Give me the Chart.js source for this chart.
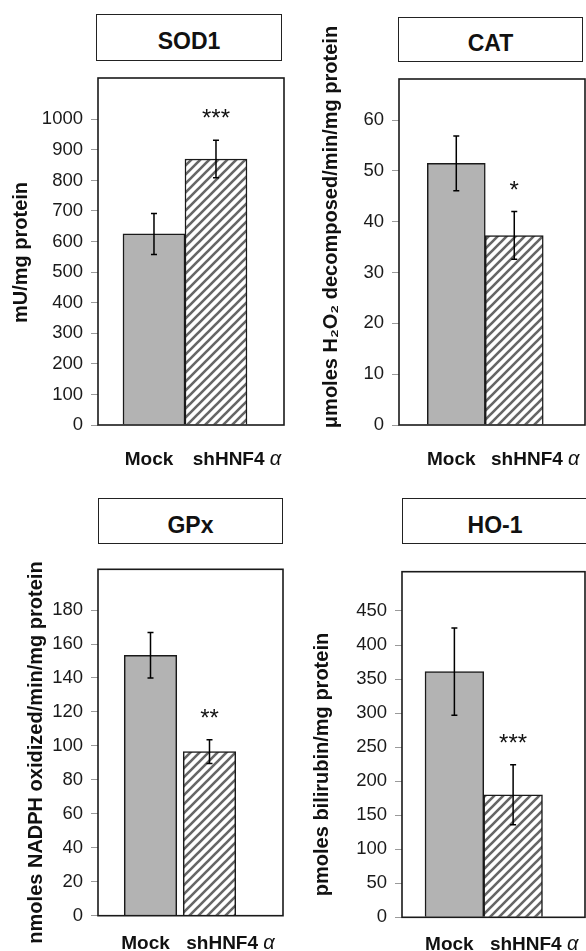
<!DOCTYPE html>
<html>
<head>
<meta charset="utf-8">
<script src="https://cdn.jsdelivr.net/npm/chart.js@4.4.1/dist/chart.umd.min.js"></script>
<style>
  html, body { margin: 0; padding: 0; background: #fff; }
  body { position: relative; width: 586px; height: 951px; overflow: hidden; font-family: 'Liberation Sans', Arial, sans-serif; }
  canvas { position: absolute; }
  .titulo { position: absolute; box-sizing: border-box; border: 1.5px solid #222; background: #fff;
            display: flex; align-items: center; justify-content: center; padding-top: 8px;
            font-weight: bold; font-size: 23px; color: #111; }
</style>
</head>
<body>
<div class="titulo" style="left:96px;top:14px;width:186px;height:47px">SOD1</div>
<div class="titulo" style="left:398px;top:17px;width:185px;height:45px">CAT</div>
<div class="titulo" style="left:98px;top:498px;width:185px;height:46px">GPx</div>
<div class="titulo" style="left:402px;top:498px;width:186px;height:46px">HO-1</div>
<canvas id="sod" width="293" height="475" style="left:0;top:0"></canvas>
<canvas id="cat" width="293" height="475" style="left:293px;top:0"></canvas>
<canvas id="gpx" width="293" height="476" style="left:0;top:475px"></canvas>
<canvas id="ho1" width="293" height="476" style="left:293px;top:475px"></canvas>
<script>
const FONT = "'Liberation Sans', 'DejaVu Sans', Arial, sans-serif";

// grupos (eje x)
const groups = ['Mock', 'shHNF4α'];

// SOD1
const sodValues = [625, 870];
const sodErrors = [67, 61];
const sodSig = ['', '***'];
const sodTicks = [0, 100, 200, 300, 400, 500, 600, 700, 800, 900, 1000];

// CAT
const catValues = [51.5, 37.3];
const catErrors = [5.4, 4.7];
const catSig = ['', '*'];
const catTicks = [0, 10, 20, 30, 40, 50, 60];

// GPx
const gpxValues = [153.4, 96.6];
const gpxErrors = [13.4, 7];
const gpxSig = ['', '**'];
const gpxTicks = [0, 20, 40, 60, 80, 100, 120, 140, 160, 180];

// HO-1
const hoValues = [361, 180];
const hoErrors = [64, 44];
const hoSig = ['', '***'];
const hoTicks = [0, 50, 100, 150, 200, 250, 300, 350, 400, 450];

// layout de cada panel (px del area del grafico)
const panels = [
  { id: 'sod', yTitle: 'mU/mg protein', values: sodValues, errors: sodErrors, sig: sodSig, ticks: sodTicks,
    yMax: 1135, xMin: -0.903, xMax: 2.097, plot: { l: 98, t: 78, r: 9, b: 50 }, titleX: 21, titleShift: 1, labelDrop: 40 },
  { id: 'cat', yTitle: 'μmoles H₂O₂ decomposed/min/mg protein', values: catValues, errors: catErrors, sig: catSig, ticks: catTicks,
    yMax: 68.1, xMin: -0.988, xMax: 2.220, plot: { l: 106, t: 79, r: 1, b: 50 }, titleX: 38, titleShift: -25, labelDrop: 40 },
  { id: 'gpx', yTitle: 'nmoles NADPH oxidized/min/mg protein', values: gpxValues, errors: gpxErrors, sig: gpxSig, ticks: gpxTicks,
    yMax: 204, xMin: -0.89, xMax: 2.246, plot: { l: 98, t: 94.3, r: 10, b: 35.3 }, titleX: 36, titleShift: 10, labelDrop: 33 },
  { id: 'ho1', yTitle: 'pmoles bilirubin/mg protein', values: hoValues, errors: hoErrors, sig: hoSig, ticks: hoTicks,
    yMax: 507.7, xMin: -0.892, xMax: 2.224, plot: { l: 109, t: 96.7, r: 1, b: 33.7 }, titleX: 29, titleShift: 20, labelDrop: 33 }
];

// desplazamiento de las etiquetas respecto al centro de la barra
const labelShift = [-5, 21];

function hatch() {
  const s = 9;
  const c = document.createElement('canvas');
  c.width = s; c.height = s;
  const g = c.getContext('2d');
  g.fillStyle = '#fff';
  g.fillRect(0, 0, s, s);
  g.strokeStyle = '#666';
  g.lineWidth = 2.6;
  g.beginPath();
  g.moveTo(0, s); g.lineTo(s, 0);
  g.moveTo(-s / 2, s / 2); g.lineTo(s / 2, -s / 2);
  g.moveTo(s / 2, s * 1.5); g.lineTo(s * 1.5, s / 2);
  g.stroke();
  return g.createPattern(c, 'repeat');
}

function panelPlugin(cfg) {
  return {
    id: 'panel_' + cfg.id,
    afterDatasetsDraw(chart) {
      const { ctx, chartArea: a, scales: { y } } = chart;
      const meta = chart.getDatasetMeta(0);
      ctx.save();
      // marco del area
      ctx.strokeStyle = '#1a1a1a';
      ctx.lineWidth = 1.6;
      ctx.strokeRect(a.left, a.top, a.right - a.left, a.bottom - a.top);
      // barras de error + asteriscos
      ctx.strokeStyle = '#000';
      ctx.lineWidth = 1.5;
      cfg.values.forEach((v, i) => {
        const cx = meta.data[i].x;
        const top = y.getPixelForValue(v + cfg.errors[i]);
        const bot = y.getPixelForValue(v - cfg.errors[i]);
        ctx.beginPath();
        ctx.moveTo(cx, top); ctx.lineTo(cx, bot);
        ctx.moveTo(cx - 3, top); ctx.lineTo(cx + 3, top);
        ctx.moveTo(cx - 3, bot); ctx.lineTo(cx + 3, bot);
        ctx.stroke();
        if (cfg.sig[i]) {
          ctx.font = '24px ' + FONT;
          ctx.fillStyle = '#111';
          ctx.textAlign = 'center';
          ctx.textBaseline = 'alphabetic';
          ctx.fillText(cfg.sig[i], cx, top - 14);
        }
      });
      ctx.restore();
    },
    afterDraw(chart) {
      const { ctx, chartArea: a } = chart;
      const meta = chart.getDatasetMeta(0);
      const yb = a.bottom + cfg.labelDrop;
      ctx.save();
      ctx.fillStyle = '#111';
      ctx.textBaseline = 'alphabetic';
      groups.forEach((g, i) => {
        const cx = meta.data[i].x + labelShift[i];
        const bold = 'bold 19px ' + FONT;
        const ital = 'italic 20px ' + FONT;
        if (g.endsWith('α')) {
          const base = g.slice(0, -1) + ' ';
          ctx.font = bold;
          const w1 = ctx.measureText(base).width;
          ctx.font = ital;
          const w2 = ctx.measureText('α').width;
          const x0 = cx - (w1 + w2) / 2;
          ctx.textAlign = 'left';
          ctx.font = bold;
          ctx.fillText(base, x0, yb);
          ctx.font = ital;
          ctx.fillText('α', x0 + w1, yb);
        } else {
          ctx.font = bold;
          ctx.textAlign = 'center';
          ctx.fillText(g, cx, yb);
        }
      });
      // titulo del eje y (rotado)
      ctx.translate(cfg.titleX, (a.top + a.bottom) / 2 + cfg.titleShift);
      ctx.rotate(-Math.PI / 2);
      ctx.font = 'bold 20px ' + FONT;
      ctx.textAlign = 'center';
      ctx.textBaseline = 'middle';
      ctx.fillText(cfg.yTitle, 0, 0);
      ctx.restore();
    }
  };
}

document.addEventListener('DOMContentLoaded', () => {
  try {
    panels.forEach(cfg => {
      const ctx = document.getElementById(cfg.id).getContext('2d');
      new Chart(ctx, {
        type: 'bar',
        data: {
          datasets: [{
            data: cfg.values.map((v, i) => ({ x: i, y: v })),
            backgroundColor: ['#b3b3b3', hatch()],
            borderColor: '#1a1a1a',
            borderWidth: 1.5,
            barPercentage: 1,
            categoryPercentage: 1
          }]
        },
        options: {
          responsive: false,
          animation: false,
          devicePixelRatio: 1,
          layout: { padding: { left: 0, top: cfg.plot.t, right: cfg.plot.r, bottom: 0 } },
          plugins: { legend: { display: false }, tooltip: { enabled: false } },
          scales: {
            x: {
              type: 'linear',
              min: cfg.xMin,
              max: cfg.xMax,
              offset: false,
              ticks: { display: false },
              grid: { display: false },
              border: { display: false },
              afterFit: s => { s.height = cfg.plot.b; }
            },
            y: {
              min: 0,
              max: cfg.yMax,
              afterBuildTicks: s => { s.ticks = cfg.ticks.map(v => ({ value: v })); },
              afterFit: s => { s.width = cfg.plot.l; },
              ticks: {
                autoSkip: false,
                padding: 8,
                color: '#1a1a1a',
                font: { family: FONT, size: 18.5 },
                callback: v => String(v)
              },
              grid: { drawOnChartArea: false, drawTicks: true, tickLength: 7, color: '#9a9a9a' },
              border: { display: false },
              title: { display: false }
            }
          }
        },
        plugins: [panelPlugin(cfg)]
      });
    });
  } catch (error) {
    console.error('Error al generar el gráfico:', error);
  }
});
</script>
</body>
</html>
